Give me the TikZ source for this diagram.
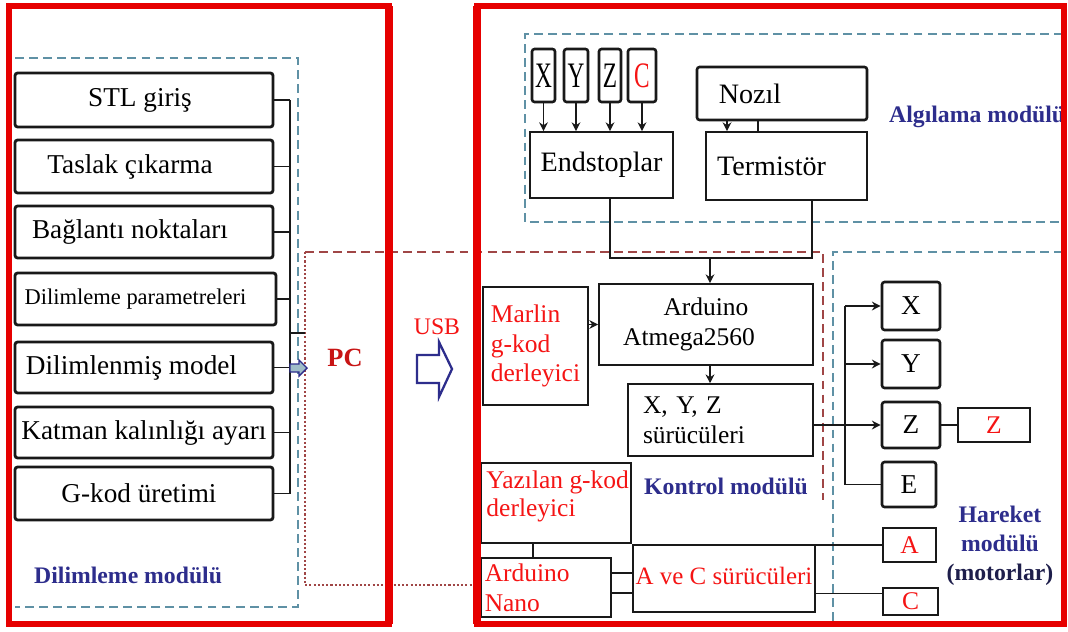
\documentclass[tikz,border=0pt]{standalone}
\usepackage{fontspec}
\usepackage{graphicx}
\setmainfont{Liberation Serif}
\usetikzlibrary{arrows.meta}
\definecolor{frm}{RGB}{230,0,0}
\definecolor{rtxt}{RGB}{245,20,20}
\definecolor{pcred}{RGB}{200,20,20}
\definecolor{navy}{RGB}{45,45,140}
\definecolor{dnavy}{RGB}{30,30,75}
\definecolor{dblue}{RGB}{95,145,165}
\definecolor{dbrown}{RGB}{160,70,70}
\definecolor{ink}{RGB}{25,25,25}
\newcommand{\tall}[1]{\scalebox{0.78}[1.2]{#1}}
\begin{document}
\begin{tikzpicture}[x=0.02cm,y=-0.02cm,
  sz/.style 2 args={minimum width=#1*0.02cm, minimum height=#2*0.02cm},
  bx/.style={draw=ink, inner sep=1pt, line width=1pt, font=\fontsize{14.5}{17}\selectfont},
  lbx/.style={draw=ink, inner sep=1pt, line width=1.6pt, rounded corners=1.5pt, font=\fontsize{15.5}{17}\selectfont},
  mbx/.style={draw=ink, inner sep=1pt, line width=1.5pt, rounded corners=1.5pt, font=\fontsize{15.5}{17}\selectfont},
  rt/.style={text=rtxt},
  mod/.style={text=navy, font=\bfseries\fontsize{13.5}{16.5}\selectfont},
  ln/.style={draw=ink, line width=0.9pt},
  arr/.style={ln, -{Stealth[length=5pt,width=5pt]}},
  bdash/.style={draw=dblue, line width=1.1pt, dash pattern=on 5pt off 3pt},
  rdash/.style={draw=dbrown, line width=1.1pt, dash pattern=on 5pt off 3pt},
  rdot/.style={draw=dbrown, line width=1.1pt, dash pattern=on 1.2pt off 1.2pt},
  frame/.style={draw=frm, line width=3.4pt},
]
\useasboundingbox (0,0) rectangle (1068,632);
\fill[white] (0,0) rectangle (1068,632);

% dashed module outlines
\draw[bdash] (15,58) -- (298,58) -- (298,607) -- (15,607);
\draw[bdash] (1063,34) -- (525,34) -- (525,222) -- (1063,222);
\draw[bdash] (1063,252) -- (833,252) -- (833,624);
\draw[rdash] (305,252) -- (823,252) -- (823,500);
\draw[rdot] (305,252) -- (305,585) -- (481,585);

% ---------- Dilimleme modulu ----------
\node[lbx, sz={258}{54}] (stl) at (144,100) {STL giriş\hspace*{0.16cm}};
\node[lbx, sz={258}{53}] (tas) at (144,166.5) {Taslak çıkarma\hspace*{0.56cm}};
\node[lbx, sz={258}{52}] (bag) at (144,232) {Bağlantı noktaları\hspace*{0.56cm}};
\node[lbx, sz={261}{52}, font=\fontsize{12.8}{15}\selectfont] (dil) at (145.5,299) {Dilimleme parametreleri\hspace*{0.4cm}};
\node[lbx, sz={258}{51}] (dlm) at (144,367.5) {Dilimlenmiş model\hspace*{0.5cm}};
\node[lbx, sz={258}{51}] (kat) at (144,432.5) {Katman kalınlığı ayarı};
\node[lbx, sz={258}{53}] (gko) at (144,493.5) {G-kod üretimi\hspace*{0.2cm}};

\coordinate (lb) at (290,0);
\draw[ln] (stl.east -| lb) -- (gko.east -| lb);
\foreach \n in {stl,tas,bag,dil,dlm,kat,gko}{\draw[ln] (\n.east) -- (\n.east -| lb);}
\coordinate (s1) at (290,333);
\coordinate (s2) at (305,333);
\draw[ln] (s1) -- (s2);
\draw[draw=navy, fill=dblue!60, line width=0.8pt] (290,364) -- (299,364) -- (299,360) -- (307,368) -- (299,376) -- (299,372) -- (290,372) -- cycle;

\node[mod, anchor=west] (dmod) at (28,575) {Dilimleme modülü};

% PC and USB
\node[text=pcred, font=\bfseries\fontsize{15}{18}\selectfont] (pc) at (345,358) {PC};
\node[text=rtxt, font=\fontsize{13.5}{16}\selectfont] (usb) at (437,327) {USB};
\draw[draw=navy, fill=white, line width=1.3pt] (417,355) -- (439,355) -- (439,342) -- (452,369) -- (439,397) -- (439,383) -- (417,383) -- cycle;

% ---------- Algilama modulu ----------
\node[mbx, sz={23}{53}, inner sep=0pt, font=\fontsize{17}{18}\selectfont] (ex) at (543.5,75.5) {\tall{X}};
\node[mbx, sz={24}{53}, inner sep=0pt, font=\fontsize{17}{18}\selectfont] (ey) at (576,75.5) {\tall{Y}};
\node[mbx, sz={22}{53}, inner sep=0pt, font=\fontsize{17}{18}\selectfont] (ez) at (610,75.5) {\tall{Z}};
\node[mbx, sz={28}{53}, inner sep=0pt, font=\fontsize{17}{18}\selectfont, text=rtxt] (ec) at (642,75.5) {\tall{C}};
\node[bx, sz={143}{66}, font=\fontsize{16}{18}\selectfont] (end) at (601.5,165) {Endstoplar};
\node[mbx, sz={170}{53}, font=\fontsize{16}{18}\selectfont] (noz) at (782,93.5) {Nozıl\hspace*{1.28cm}};
\node[bx, sz={161}{68}, font=\fontsize{16}{18}\selectfont] (ter) at (786.5,166) {Termistör\hspace*{0.6cm}};
\foreach \n in {ex,ey,ez,ec}{\draw[arr] (\n.south) -- (\n.south |- end.north);}
\draw[arr] ([xshift=-1.1cm]noz.south) -- ([xshift=-1.1cm]noz.south |- ter.north);
\draw[ln] ([xshift=-0.48cm]noz.south) -- ([xshift=-0.48cm]noz.south |- ter.north);
\node[mod, anchor=west] (amod) at (883,117) {Algılama modülü};

% ---------- Kontrol modulu ----------
\coordinate (jn) at (710,258);
\node[bx, sz={214}{81}, align=center] (ard) at (706,324.5) {Arduino\\Atmega2560\hspace*{0.68cm}};
\draw[ln] ([xshift=0.17cm]end.south) |- (jn) -| ([xshift=0.51cm]ter.south);
\draw[arr] (jn) -- (jn |- ard.north);
\node[bx, sz={105}{118}, rt, align=left] (mar) at (535.5,346) {Marlin\\g-kod\\derleyici};
\draw[arr] (mar.east |- ard.west) -- (ard.west);
\node[bx, sz={185}{66}, align=left, text width=3.1cm, inner sep=0.25cm] (drv) at (720.5,420) {X, Y, Z\\sürücüleri};
\draw[arr] ([xshift=0.08cm]ard.south) -- ([xshift=0.08cm]ard.south |- drv.north);
\node[bx, sz={150}{80}, label={[anchor=north west, xshift=0.12cm, yshift=-0.16cm, inner sep=0pt, align=left, text=rtxt, font=\fontsize{14.5}{16}\selectfont]north west:Yazılan g-kod\\derleyici}] (yaz) at (556,503) {};
\node[bx, sz={130}{59}, rt, align=left, text width=2.45cm, inner sep=0.04cm] (nano) at (546,587.5) {Arduino\\Nano};
\node[bx, sz={182}{67}, rt, inner sep=0pt, font=\fontsize{14.2}{17}\selectfont] (ac) at (724,578.5) {\raisebox{0.1cm}{A ve C sürücüleri}};
\draw[ln] ([xshift=-0.46cm]yaz.south) -- ([xshift=-0.46cm]yaz.south |- nano.north);
\draw[ln] ([yshift=0.29cm]nano.east) -- ([yshift=0.29cm]nano.east -| ac.west);
\draw[ln] ([yshift=-0.11cm]nano.east) -- ([yshift=-0.11cm]nano.east -| ac.west);
\node[mod, anchor=west] (kmod) at (638,486) {Kontrol modülü};

% ---------- Hareket modulu ----------
\node[mbx, sz={58}{48}] (xm) at (911,306) {X};
\node[mbx, sz={58}{48}] (ym) at (911,364) {Y};
\node[mbx, sz={58}{46}] (zm) at (911,425) {Z};
\node[mbx, sz={54}{45}] (em) at (909,484.5) {E};
\node[bx, sz={72}{34}, rt, line width=1.3pt] (zr) at (994,425) {Z};
\node[bx, sz={53}{34}, rt, line width=1.3pt] (am) at (909.5,545) {A};
\node[bx, sz={55}{27}, rt, line width=1.3pt, inner sep=0pt] (cm) at (910.5,601.5) {C};
\coordinate (bx) at (845,0);
\draw[arr] (drv.east |- zm.west) -- (zm.west);
\draw[arr] (bx |- xm.west) -- (xm.west);
\draw[arr] (bx |- ym.west) -- (ym.west);
\draw[ln] (bx |- xm.west) -- (bx |- em.west) -- (em.west);
\draw[ln] (zm.east) -- (zr.west);
\draw[ln] (ac.east |- am.west) -- (am.west);
\draw[ln] ([yshift=-0.3cm]ac.east) -- ([yshift=-0.3cm]ac.east -| cm.west);
\node[mod, align=center] (hmod) at (1000,546) {Hareket\\modülü\\\textcolor{dnavy}{(motorlar)}};

% frames
\draw[frame] (9,6) rectangle (389,624);
\draw[frame] (477,6) rectangle (1064,624);
\draw[draw=frm, line width=4.5pt] (389,6) -- (389,624);
\draw[draw=frm, line width=4.5pt] (477,6) -- (477,624);
\end{tikzpicture}
\end{document}
